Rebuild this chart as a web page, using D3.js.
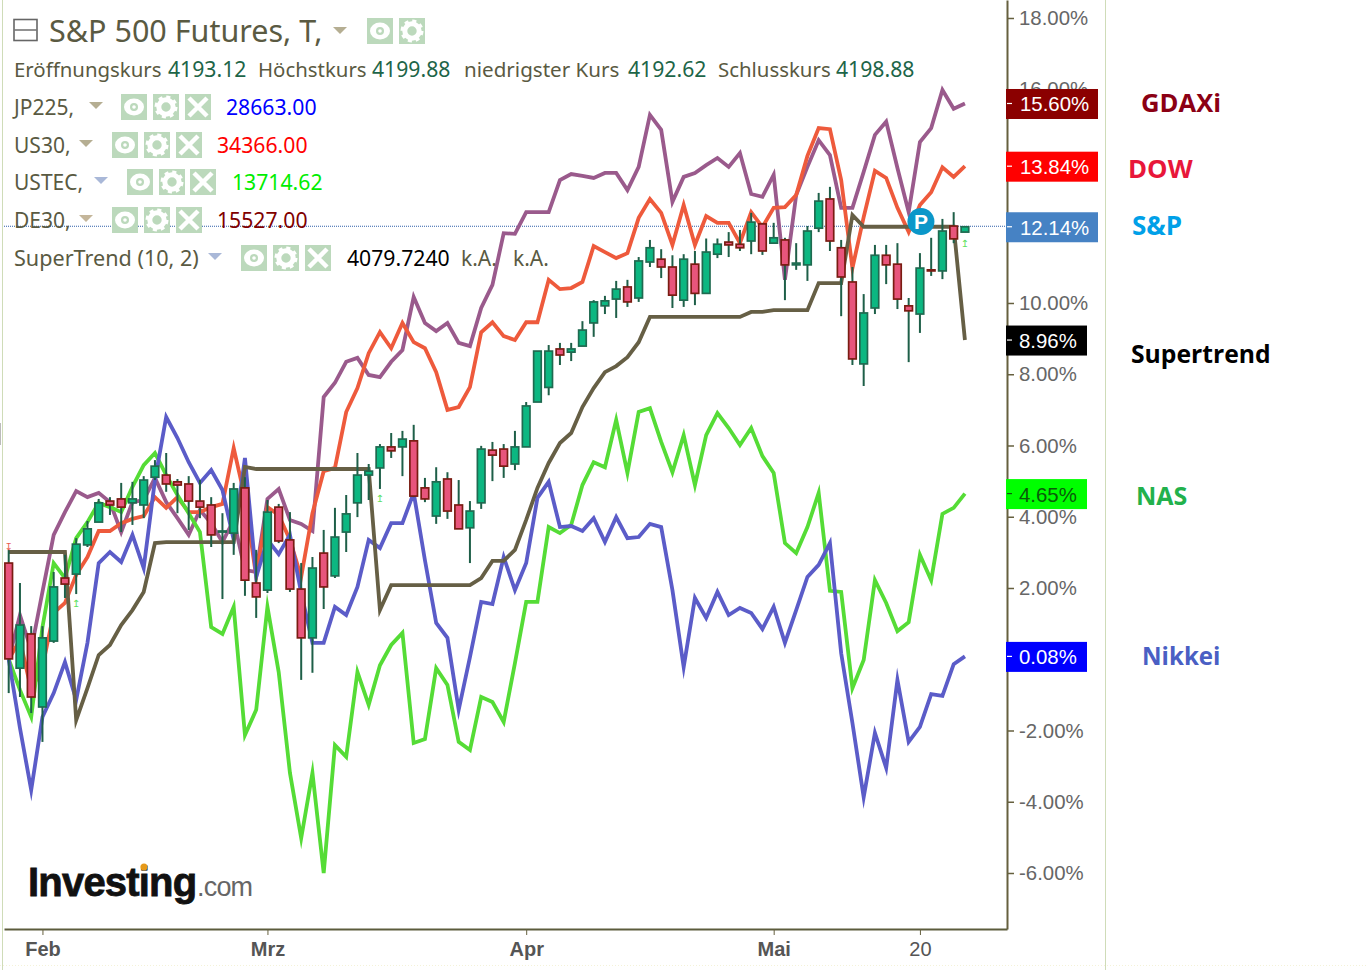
<!DOCTYPE html>
<html><head><meta charset="utf-8">
<script src="https://cdn.jsdelivr.net/npm/d3@7/dist/d3.min.js"></script>
<style>html,body{margin:0;padding:0;background:#fff;overflow:hidden}svg{display:block}</style>
</head><body><svg id="c" width="1366" height="970"></svg>
<script>
// S&P 500 candles, % change since the start of the window
const candleOpen=[2.70,-0.25,0.71,-1.34,0.51,2.28,2.39,3.21,3.85,4.44,4.50,4.39,4.33,5.11,5.17,4.98,4.92,4.44,4.33,3.57,3.54,4.81,2.14,1.94,4.27,3.35,1.97,0.60,2.98,2.34,3.57,4.39,5.17,5.37,5.96,5.96,6.13,4.81,4.02,5.06,4.33,3.69,4.39,5.87,5.90,5.48,5.96,7.22,7.63,8.71,8.62,8.79,9.44,9.92,10.11,10.45,10.14,11.15,11.23,11.01,10.08,11.09,10.27,11.37,11.71,11.65,11.74,12.22,11.68,11.77,11.07,11.07,12.10,12.92,11.55,10.59,8.29,9.86,11.34,11.09,9.92,9.69,10.93,10.90,12.16,11.99];
const candleHigh=[3.07,2.14,0.93,0.93,2.45,2.93,3.40,3.88,4.50,4.55,4.95,4.98,5.14,5.59,5.79,5.06,5.14,5.03,4.55,4.10,4.95,5.11,3.07,4.47,4.36,4.13,2.70,2.87,3.63,4.25,4.61,5.79,5.48,6.04,6.35,6.41,6.58,5.09,5.39,5.25,5.03,4.44,5.99,6.10,6.04,6.41,7.22,8.65,8.82,8.88,8.88,9.49,10.08,10.20,10.62,10.65,11.29,11.77,11.51,11.34,11.37,11.46,11.81,11.81,11.99,12.05,12.53,12.25,12.25,11.83,11.68,12.16,13.09,13.26,11.77,11.01,10.25,11.63,11.63,11.68,10.14,11.40,11.83,12.36,12.55,12.16];
const candleLow=[-0.95,-1.06,-1.51,-2.32,0.46,1.72,1.83,3.15,3.85,4.05,3.57,3.77,3.96,5.03,4.70,4.10,3.63,3.96,3.15,1.69,2.93,1.78,1.16,1.86,3.26,1.89,-0.58,-0.38,1.41,2.28,3.01,3.99,4.47,4.78,5.65,5.14,4.55,4.41,3.80,3.94,3.66,2.70,4.22,5.00,5.09,5.31,5.96,7.22,7.41,8.26,8.37,8.79,9.05,9.69,9.58,9.89,10.03,11.01,10.70,9.86,9.89,9.94,10.27,11.26,11.29,11.46,11.37,11.35,11.68,10.08,10.93,10.62,11.99,11.46,9.63,8.26,7.67,9.69,10.53,9.83,8.34,9.16,10.76,10.67,11.68,11.99];
const candleClose=[0.01,0.96,-1.06,0.60,2.03,2.11,3.23,3.66,4.39,4.33,4.27,4.50,5.03,5.42,4.92,4.89,4.44,4.27,3.49,3.60,4.78,2.22,1.75,4.13,3.32,1.97,0.60,2.56,2.03,3.43,4.08,5.17,5.28,5.96,5.85,6.18,4.58,4.50,4.98,4.16,3.66,4.16,5.90,5.73,5.42,5.96,7.11,8.65,8.65,8.54,8.71,9.24,10.03,10.06,10.39,10.03,11.18,11.55,11.01,10.22,11.23,10.27,11.43,11.65,11.63,11.55,12.27,11.46,11.83,11.07,11.12,12.02,12.86,11.74,10.73,8.43,9.72,11.34,11.07,10.11,9.78,10.98,10.90,12.02,11.80,12.14];
// Comparison series, % change
const nikkei=[0.00,-1.93,-3.67,-1.62,-0.95,-0.08,-1.14,0.46,2.70,3.01,2.73,3.49,2.56,5.03,6.80,6.21,5.53,4.95,5.31,4.75,3.35,5.65,2.31,3.35,2.95,3.49,1.86,0.46,0.46,1.47,1.24,2.03,3.35,3.12,3.82,3.82,4.67,2.78,1.02,0.60,-1.42,0.06,1.61,1.55,2.87,1.94,2.70,4.53,4.98,3.71,3.74,3.60,3.96,3.29,3.99,3.40,3.43,3.80,3.71,1.94,-0.22,1.72,1.16,1.89,1.24,1.44,1.30,0.85,1.47,0.46,1.38,2.31,2.65,3.26,0.17,-1.79,-3.87,-2.07,-3.05,-0.58,-2.32,-1.90,-0.98,-1.03,-0.14,0.08];
const nas=[0.00,-0.86,-1.62,0.90,2.70,2.28,3.40,3.85,4.39,4.27,4.13,4.84,5.45,5.79,5.17,4.61,4.10,3.57,0.90,0.71,1.47,-2.13,-1.42,1.47,-0.36,-3.19,-5.02,-3.19,-6.00,-2.41,-2.74,-0.36,-1.28,-0.17,0.40,0.74,-2.35,-2.24,-0.25,-0.72,-2.32,-2.55,-1.06,-1.20,-1.76,-0.11,1.61,1.61,3.71,3.54,3.77,4.89,5.53,5.39,6.72,5.23,6.94,7.05,6.10,5.25,6.29,4.89,6.29,6.91,6.49,6.01,6.49,5.70,5.23,3.26,2.98,3.71,4.67,1.92,1.89,-0.81,-0.02,2.22,1.58,0.79,1.04,2.93,2.22,4.08,4.25,4.65];
const dow=[0.00,0.54,-0.86,-0.22,1.30,1.58,2.37,2.87,3.60,3.60,3.82,3.94,4.02,4.55,4.25,4.55,4.13,4.13,4.27,4.36,5.93,4.53,2.31,4.27,4.05,3.35,2.31,4.10,5.28,5.37,6.94,7.61,8.59,9.18,8.73,9.44,8.90,8.73,8.06,7.00,7.08,7.64,9.18,9.46,9.07,8.96,9.46,9.46,10.65,10.39,10.42,10.59,11.60,11.43,11.26,11.40,12.39,12.92,12.53,11.63,12.75,11.63,12.44,12.25,12.25,11.68,12.55,12.13,12.67,12.69,13.03,14.13,14.91,14.88,13.45,10.98,12.41,13.71,13.51,12.67,11.99,12.75,13.11,13.81,13.54,13.84];
const gdaxi=[0.00,1.24,0.26,1.89,3.49,4.13,4.72,4.55,4.67,4.41,3.57,4.41,4.47,5.09,4.41,3.96,3.49,4.19,3.82,3.29,3.91,2.50,2.45,4.50,4.78,3.91,3.80,3.60,7.36,7.76,8.35,8.46,7.98,7.92,8.35,8.68,10.17,9.44,9.21,9.44,8.88,8.79,9.86,10.51,11.96,11.94,12.55,12.55,12.55,13.45,13.62,13.57,13.51,13.65,13.65,13.17,13.82,15.28,14.86,12.84,13.54,13.65,13.87,14.07,13.82,14.21,13.06,12.98,13.60,10.65,13.03,13.82,14.57,14.15,12.67,12.67,13.68,14.72,15.09,13.79,12.55,14.52,14.91,15.98,15.45,15.60];
const supertrend=[3.01,3.01,3.01,3.01,3.01,3.01,-1.71,-0.81,0.12,0.40,0.96,1.38,1.89,3.26,3.29,3.29,3.29,3.29,3.29,3.29,3.29,5.40,5.34,5.34,5.34,5.34,5.34,5.34,5.34,5.34,5.34,5.34,5.34,1.38,2.08,2.08,2.08,2.08,2.08,2.08,2.08,2.08,2.28,2.76,2.76,3.07,3.91,4.81,5.51,6.07,6.35,7.08,7.61,8.06,8.23,8.48,8.90,9.61,9.61,9.61,9.61,9.61,9.61,9.61,9.61,9.61,9.75,9.75,9.80,9.80,9.80,9.80,10.56,10.56,10.56,12.47,12.14,12.14,12.14,12.14,12.14,12.14,12.14,12.14,12.14,8.96];
// Axis
const yTicks=[18,16,10,8,6,4,2,-2,-4,-6];
const xTickIdx=[3,23,46,68,81];
const xTickLabels=["Feb","Mrz","Apr","Mai","20"];
const buySignals=[6,33,85];
const sellSignals=[0];
// End-of-line badges and right-hand captions
const badgeValues=[15.60,13.84,12.14,8.96,4.65,0.08];
const badgeNames=["GDAXi","DOW","S&P","Supertrend","NAS","Nikkei"];

const W={axisX:1007,axisY:929};
const svg=d3.select("#c");
const x=d3.scaleLinear().domain([-0.418,88.74]).range([4,W.axisX]);
const y=d3.scaleLinear().domain([18.505,-7.572]).range([0,W.axisY]);
const AX="Liberation Sans, Arial, sans-serif", UI="'Noto Sans', Tahoma, sans-serif";

// frame hairlines
[2,1105].forEach(px=>svg.append("line").attr("x1",px+.5).attr("x2",px+.5).attr("y1",0).attr("y2",970).attr("stroke","#cfdcb8").attr("stroke-width",1));
svg.append("line").attr("x1",0).attr("x2",1366).attr("y1",965.5).attr("y2",965.5).attr("stroke","#f4f2d8").attr("stroke-dasharray","1 2");
svg.append("line").attr("x1",.5).attr("x2",.5).attr("y1",423).attr("y2",445).attr("stroke","#bbb");

// current price line
svg.append("line").attr("x1",4).attr("x2",W.axisX).attr("y1",y(12.14)-.5).attr("y2",y(12.14)-.5).attr("stroke","#2f5fa8").attr("stroke-width",1).attr("stroke-dasharray","1 1");

// legend text (under the lines)
const lg=svg.append("g").attr("font-family",UI);
function t(s,px,py,size,col,g=lg){return g.append("text").attr("x",px).attr("y",py).attr("font-size",size).attr("fill",col).text(s)}
const TXT="#5a5a42";
t("S&P 500 Futures, T,",49,42,30.5,TXT);
lg.append("rect").attr("x",14).attr("y",19.5).attr("width",23).attr("height",21).attr("fill","none").attr("stroke","#666").attr("stroke-width",1.6);
lg.append("line").attr("x1",14).attr("x2",37).attr("y1",30).attr("y2",30).attr("stroke","#777").attr("stroke-width",1.6);
const DG="#1d6548";
[["Eröffnungskurs",14,TXT,20.4],["4193.12",168,DG,21.2],["Höchstkurs",258,TXT,20.4],["4199.88",372,DG,21.2],["niedrigster Kurs",464,TXT,20.6],["4192.62",628,DG,21.2],["Schlusskurs",718,TXT,20.4],["4198.88",836,DG,21.2]].forEach(d=>t(d[0],d[1],77,d[3],d[2]));
const rows=[
 {n:"JP225,",v:"28663.00",c:"#0000ff",yy:115,vx:226,tri:[96,"#b5ae92"],ic:[121,153,185],top:94},
 {n:"US30,",v:"34366.00",c:"#ff0000",yy:153,vx:217,tri:[86,"#b5ae92"],ic:[112,144,176],top:132},
 {n:"USTEC,",v:"13714.62",c:"#00ee00",yy:190,vx:232,tri:[101,"#a9b8d8"],ic:[127,159,190],top:169},
 {n:"DE30,",v:"15527.00",c:"#800000",yy:228,vx:217,tri:[86,"#c4b69a"],ic:[112,144,176],top:207},
 {n:"SuperTrend (10, 2)",v:"4079.7240",c:"#000",yy:266,vx:347,tri:[215,"#a9b8d8"],ic:[241,273,305],top:245}];
function tri(cx,cy,col){lg.append("path").attr("d",d3.line()([[cx-7,cy-3],[cx+7,cy-3],[cx,cy+4]])+"Z").attr("fill",col)}
function icon(px,py,kind){
 const g=lg.append("g").attr("transform",`translate(${px},${py})`);
 g.append("rect").attr("width",26).attr("height",26).attr("fill","#bcd9bc");
 if(kind==0){g.append("ellipse").attr("cx",13).attr("cy",13).attr("rx",10).attr("ry",8.5).attr("fill","#fff");g.append("circle").attr("cx",13).attr("cy",13).attr("r",4).attr("fill","#bcd9bc");g.append("circle").attr("cx",13).attr("cy",13).attr("r",1.8).attr("fill","#fff");}
 if(kind==1){g.append("circle").attr("cx",13).attr("cy",13).attr("r",7.2).attr("fill","none").attr("stroke","#fff").attr("stroke-width",5);g.append("circle").attr("cx",13).attr("cy",13).attr("r",10).attr("fill","none").attr("stroke","#fff").attr("stroke-width",3).attr("stroke-dasharray","4 3.85");}
 if(kind==2){g.append("path").attr("d","M4 4L22 22M22 4L4 22").attr("stroke","#fff").attr("stroke-width",4.5);}
}
tri(340,30,"#b5ae92");icon(367,18,0);icon(399,18,1);
rows.forEach(r=>{t(r.n,14,r.yy,r.n.length>8?21.6:21,TXT);tri(r.tri[0],r.yy-10,r.tri[1]);r.ic.forEach((px,i)=>icon(px,r.top,i));t(r.v,r.vx,r.yy,21.2,r.c)});
t("k.A.",461,266,21,TXT);t("k.A.",513,266,21,TXT);

// lines
const ln=d3.line().x((d,i)=>x(i)).y(d=>y(d));
const series=[[gdaxi,"#9a5a8c"],[dow,"#ee5a3c"],[nas,"#55dc36"],[nikkei,"#5b5cc8"],[supertrend,"#665f45"]];
svg.append("g").attr("fill","none").attr("stroke-width",3.8).attr("stroke-linejoin","miter").attr("stroke-miterlimit",8)
 .selectAll("path").data(series).join("path").attr("d",d=>ln(d[0])).attr("stroke",d=>d[1]);

// candles
const idx=d3.range(candleOpen.length);
const cg=svg.append("g");
cg.selectAll("line").data(idx).join("line").attr("x1",i=>x(i)).attr("x2",i=>x(i)).attr("y1",i=>y(candleHigh[i])).attr("y2",i=>y(candleLow[i])).attr("stroke","#1e5f48").attr("stroke-width",2);
cg.selectAll("rect").data(idx).join("rect")
 .attr("x",i=>x(i)-3.8).attr("width",7.6)
 .attr("y",i=>y(Math.max(candleOpen[i],candleClose[i])))
 .attr("height",i=>Math.max(1,Math.abs(y(candleOpen[i])-y(candleClose[i]))))
 .attr("fill",i=>candleClose[i]>=candleOpen[i]?"#0cb781":"#e8557c")
 .attr("stroke",i=>candleClose[i]>=candleOpen[i]?"#1f6a50":"#7a1c12")
 .attr("stroke-width",1.7);

// SuperTrend signals
buySignals.forEach(i=>svg.append("text").attr("x",x(i)).attr("y",y(candleLow[i])+(i==85?15:13)).attr("text-anchor","middle").attr("font-family","DejaVu Sans").attr("font-size",10).attr("fill","#5ce05c").text("↥"));
sellSignals.forEach(i=>svg.append("text").attr("x",x(i)).attr("y",y(candleHigh[i])).attr("text-anchor","middle").attr("font-family","DejaVu Sans").attr("font-size",10).attr("fill","#e85a4a").text("↧"));

// pivot marker
svg.append("circle").attr("cx",x(81)+1).attr("cy",221.5).attr("r",13.5).attr("fill","#0b97c9");
svg.append("text").attr("x",x(81)+1).attr("y",229).attr("text-anchor","middle").attr("font-family",AX).attr("font-weight","bold").attr("font-size",21).attr("fill","#fff").text("P");

// axes
const pct=v=>d3.format(".2f")(v).replace("−","-")+"%";
const yAxis=d3.axisRight(y).tickValues(yTicks).tickFormat(pct).tickSize(7).tickPadding(5).tickSizeOuter(0);
const ya=svg.append("g").attr("transform",`translate(${W.axisX},0)`).call(yAxis);
ya.select(".domain").attr("stroke","#66603f").attr("stroke-width",2);
ya.selectAll(".tick line").attr("stroke","#66603f").attr("stroke-width",1.5);
ya.selectAll(".tick text").attr("font-family",AX).attr("font-size",20.4).attr("fill","#666");
const xAxis=d3.axisBottom(x).tickValues(xTickIdx).tickFormat((d,i)=>xTickLabels[i]).tickSize(6).tickPadding(7).tickSizeOuter(0);
const xa=svg.append("g").attr("transform",`translate(0,${W.axisY})`).call(xAxis);
xa.select(".domain").attr("stroke","#5c5c3c").attr("stroke-width",2);
xa.selectAll(".tick line").attr("stroke","#66603f");
xa.selectAll(".tick text").attr("font-family",AX).attr("font-size",20).attr("fill","#555").attr("font-weight",(d,i)=>i<4?"bold":"normal");

// badges
const badgeFill=["#8b0000","#ff0000","#4682c4","#000000","#00ff00","#0000ff"];
const badgeText=["#fff","#fff","#fff","#fff","#0a5a0a","#fff"];
const badgeW=[92,92,92,81,81,81];
const capX=[1141,1128,1132,1131,1136,1142],capY=[112,178,235,363,505,665];
const capCol=["#8b0014","#e8173a","#00a0e8","#000","#22b14c","#4a5fc4"];
const capSize=[25.6,25.8,26,24.7,25,24.1];
badgeValues.forEach((v,i)=>{
 svg.append("rect").attr("x",1006).attr("y",y(v)-15+.5).attr("width",badgeW[i]).attr("height",30).attr("fill",badgeFill[i]);
 svg.append("line").attr("x1",1007).attr("x2",1012).attr("y1",y(v)).attr("y2",y(v)).attr("stroke",i==4?"#0a5a0a":"#fff").attr("stroke-width",1.2);
 svg.append("text").attr("x",1019+(i<3?1:0)).attr("y",y(v)+8).attr("font-family",AX).attr("font-size",20.4).attr("fill",badgeText[i]).text(pct(v));
 svg.append("text").attr("x",capX[i]).attr("y",capY[i]).attr("font-family","'Open Sans'").attr("font-weight",700).attr("font-size",capSize[i]).attr("fill",capCol[i]).text(badgeNames[i]);
});

// logo
svg.append("text").attr("x",28).attr("y",896).attr("font-family",AX).attr("font-weight","bold").attr("font-size",40).attr("letter-spacing",-0.8).attr("fill","#111").attr("stroke","#111").attr("stroke-width",.8).text("Investing");
svg.append("text").attr("x",197).attr("y",896).attr("font-family",AX).attr("font-size",27).attr("letter-spacing",-0.8).attr("fill","#666").text(".com");
svg.append("circle").attr("cx",144).attr("cy",867).attr("r",3.5).attr("fill","#e69a1a");
</script></body></html>
